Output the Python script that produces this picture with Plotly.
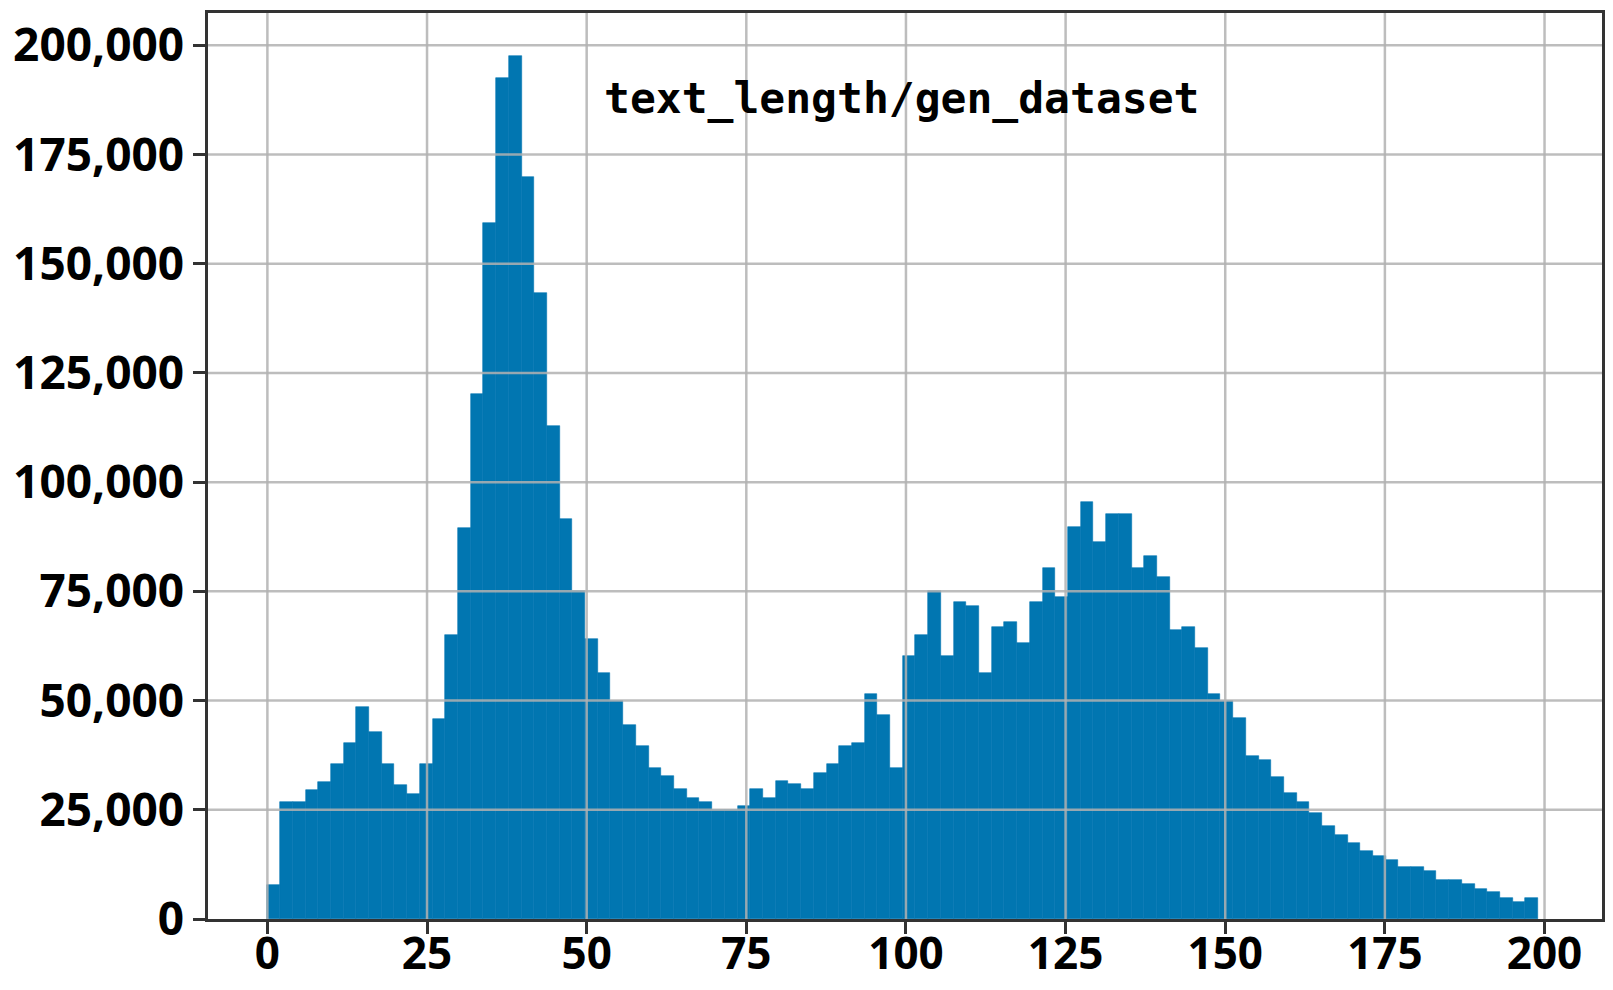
import numpy as np
import plotly.graph_objects as go

# histogram of text lengths: 100 bins from 0 to 199
bin_start = 0
bin_end = 199
n_bins = 100

counts = [
    7700, 26700, 26700, 29500, 31400, 35400, 40200, 48600, 42900, 35400,
    30700, 28600, 35400, 45800, 65000, 89500, 120100, 159400, 192600, 197500,
    169900, 143200, 112900, 91600, 75200, 64000, 56300, 50000, 44400, 39500,
    34500, 32700, 29800, 27800, 26800, 25000, 25000, 25800, 29800, 27800,
    31600, 30800, 29800, 33500, 35500, 39500, 40300, 51500, 46700, 34500,
    60100, 64900, 75000, 60300, 72600, 71600, 56400, 66900, 67900, 63100,
    72600, 80300, 73700, 89700, 95500, 86200, 92700, 92700, 80300, 83200,
    78300, 66100, 66900, 62100, 51500, 49900, 45900, 37400, 36500, 32500,
    28800, 26800, 24200, 21300, 19300, 17400, 15500, 14500, 13500, 11800,
    11900, 10900, 9000, 9000, 7900, 6900, 6100, 4900, 4000, 4900,
]

x_ticks = [0, 25, 50, 75, 100, 125, 150, 175, 200]
y_ticks = [0, 25000, 50000, 75000, 100000, 125000, 150000, 175000, 200000]

label = "text_length/gen_dataset"

BLUE = "#0176b1"
GRID = "rgba(178,178,178,0.85)"
DARK = "#333333"

edges = np.linspace(bin_start, bin_end, n_bins + 1)
centers = (edges[:-1] + edges[1:]) / 2
bin_w = edges[1] - edges[0]

fig = go.Figure(
    go.Bar(
        x=centers,
        y=counts,
        width=bin_w,
        marker=dict(color=BLUE, line=dict(color=BLUE, width=0.6)),
        hoverinfo="x+y",
    )
)

# grid drawn above the bars, like the original
for xv in x_ticks:
    fig.add_shape(type="line", xref="x", yref="paper", x0=xv, x1=xv, y0=0, y1=1,
                  line=dict(color=GRID, width=2.5), layer="above")
for yv in y_ticks[1:]:
    fig.add_shape(type="line", xref="paper", yref="y", x0=0, x1=1, y0=yv, y1=yv,
                  line=dict(color=GRID, width=2.5), layer="above")

tick_font = dict(family="Open Sans", size=46, color="black", weight="bold")

# page body has an 8px margin, so the figure is sized to fit the window
fig.update_layout(
    width=1597,
    height=974,
    margin=dict(l=200, r=3, t=5, b=63),
    plot_bgcolor="white",
    paper_bgcolor="white",
    showlegend=False,
    bargap=0,
    xaxis=dict(
        range=[-9.3, 209.0],
        tickvals=x_ticks,
        ticks="outside", ticklen=12, tickwidth=2.5, tickcolor=DARK,
        ticklabelstandoff=-18,
        showline=True, mirror=True, linecolor=DARK, linewidth=2.5,
        showgrid=False, zeroline=False, automargin=False,
        tickfont=dict(tick_font, size=44),
    ),
    yaxis=dict(
        range=[0, 207400],
        tickvals=y_ticks,
        tickformat=",",
        ticks="outside", ticklen=12, tickwidth=2.5, tickcolor=DARK,
        showline=True, mirror=True, linecolor=DARK, linewidth=2.5,
        showgrid=False, zeroline=False, automargin=False,
        tickfont=tick_font,
    ),
    annotations=[
        dict(
            text=label,
            xref="paper", yref="paper",
            x=0.2825, y=0.906,
            xanchor="left", yanchor="middle",
            showarrow=False,
            font=dict(family="DejaVu Sans Mono", size=43, color="black", weight="bold"),
        )
    ],
)

fig.write_html("out.html")
